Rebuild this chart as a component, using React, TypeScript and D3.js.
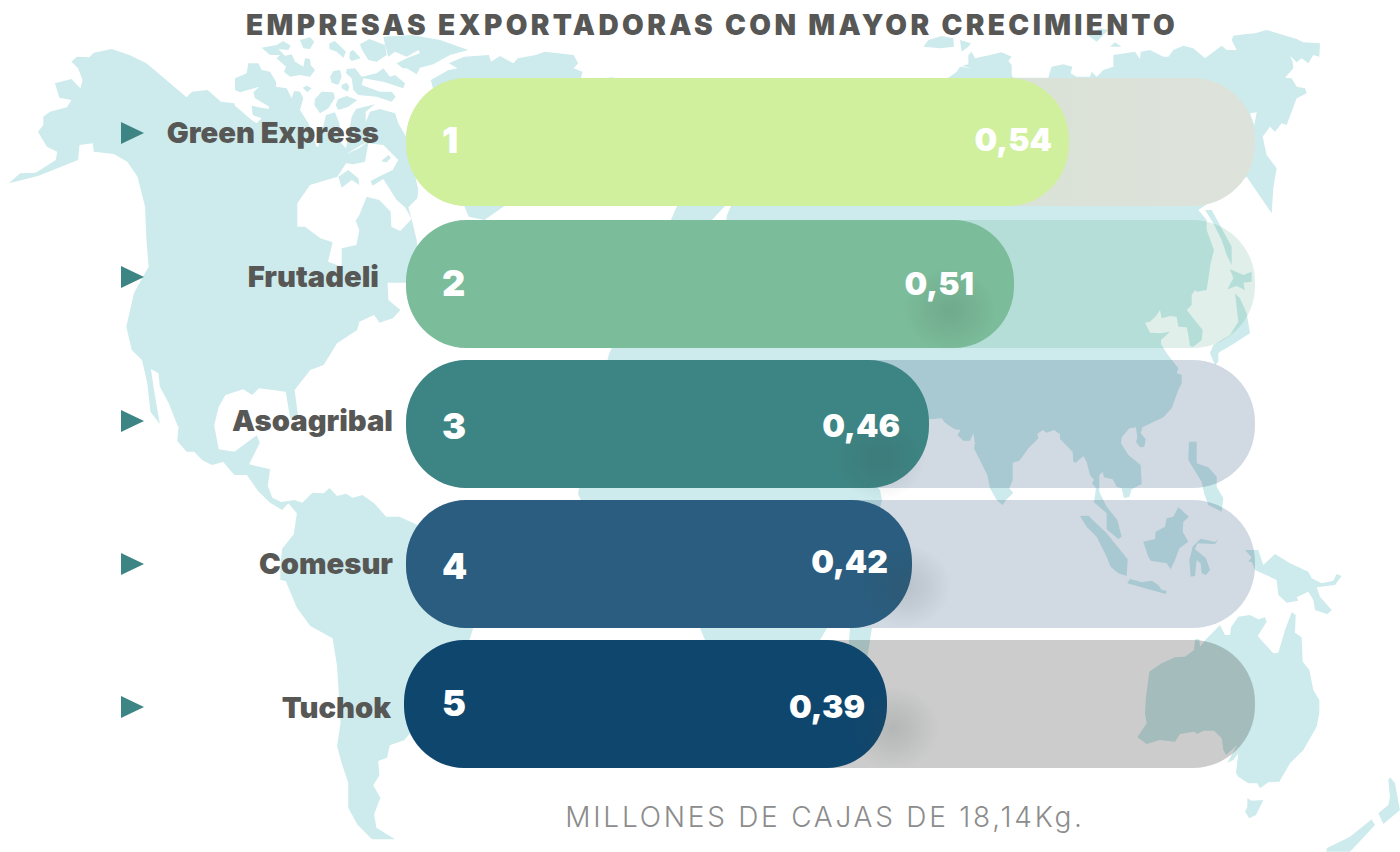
import React from "react";
import * as d3 from "d3";

const companies = ["Green Express", "Frutadeli", "Asoagribal", "Comesur", "Tuchok"];
const ranks = ["1", "2", "3", "4", "5"];
const values = [0.54, 0.51, 0.46, 0.42, 0.39];
const valueLabels = ["0,54", "0,51", "0,46", "0,42", "0,39"];
const title = "EMPRESAS EXPORTADORAS CON MAYOR CRECIMIENTO";
const footnote = "MILLONES DE CAJAS DE 18,14Kg.";

// layout and style, separate from the data
const rowTops = [78, 220, 360, 500, 640];
const barEnds = [887, 912, 929, 1014, 1069];
const sortedValues = [0.39, 0.42, 0.46, 0.51, 0.54];
const barStarts = [406, 406, 406, 406, 404];
const labelRight = [379, 379, 393, 393, 391];
const labelBase = [143, 287, 431, 574, 718];
const rankBase = [153, 296, 439, 579, 716];
const valueRight = [1052, 974, 900, 888, 865];
const valueBase = [151, 295, 437, 573, 718];
const markerY = [133, 277, 421, 564, 707];
const fillColors = ["#d0f09e", "#7bbc9a", "#3d8584", "#2a5d7f", "#0f466e"];
const trackColors = ["url(#t1)", "#3e9c76", "#002c5e", "#002c5e", "#000000"];
const trackAlpha = [1, 0.16, 0.18, 0.18, 0.2];
const shadowAt = [null, [950, 310], [880, 458], [905, 586], [893, 728]];

type Frame = [number, number, number, number];
const z1: Frame = [0, 0, 1 / 2.24, 1 / 3];
const z3: Frame = [0, 426, 1 / 2.24, 1 / 3];
const z5: Frame = [220, 35, 1 / 3, 1 / 3];
const z6: Frame = [900, 25, 1 / 3, 1 / 3];
const z7: Frame = [1050, 210, 1 / 3, 1 / 3];
const z8: Frame = [900, 340, 1 / 3, 1 / 3];
const z9: Frame = [1120, 550, 1 / 3, 1 / 3];
const abs: Frame = [0, 0, 1, 1];

const line = d3.line<[number, number]>().curve(d3.curveLinear);
function shape(...segs: [Frame, string][]): string {
  const pts: [number, number][] = [];
  for (const [f, s] of segs) {
    for (const p of s.trim().split(/\s+/)) {
      const [x, y] = p.split(",").map(Number);
      pts.push([f[0] + x * f[2], f[1] + y * f[3]]);
    }
  }
  return line(pts) + "Z";
}

const landShapes: string[] = [
  // the Americas
  shape(
    [z1, "20,550 45,520 80,518 125,480 128,455 105,440 85,395 97,375 97,350 112,335 150,322 160,300 133,293 123,250 160,237 180,265 185,240 175,205 160,185 172,170 200,172 210,158 250,147 290,165 328,190 418,292 430,275 465,270 495,305 525,310"],
    [z5, "45,212 95,255 110,265 125,250 98,240 95,212 145,222 148,215 105,190 100,172 118,155 60,172 45,165 45,130 80,115 85,85 115,85 125,105 150,110 168,140 168,155 200,160 215,190 222,168 240,170 250,190 240,225 265,265 290,335 295,335 318,240 345,232 358,265 360,320 378,340 395,245 408,222 465,208 437,230 437,262 450,230 480,222 525,235 535,265 558,305 585,340 585,420 595,465 592,490 565,517 575,552 590,615 600,740 558,743"],
    [z1, "868,848 870,900 897,930 880,955 850,968 838,945 805,965 800,990 755,1030 725,1095 695,1110 660,1170 668,1250 650,1255 640,1175 610,1170 580,1165 565,1185 545,1168 505,1185 490,1220 480,1275"],
    [z3, "480,0 490,70 525,77 575,28 582,50 558,115 605,130 600,180 610,215 630,228 660,222 677,230 700,200 725,202 738,186 755,210 775,203 790,215 812,207 838,232 865,272 895,272 940,300 1060,500 1060,607 1052,640 1000,800 905,943 873,958 867,995 847,1005 850,1048 836,1078 852,1115 838,1165 843,1205 885,1240 833,1240 800,1195 780,1145 780,1070 765,1010 755,960 763,890 755,720 745,637 695,600 665,545 640,465 628,462 628,420 632,368 658,325 665,262 646,232 632,252 605,230 578,195 553,147 525,147 500,108 475,117 453,103 435,77 418,77 397,45 400,0"],
    [z1, "398,1278 378,1210 358,1160 355,1120 338,1107 345,1170 358,1272 337,1235 330,1150 318,1080 295,1050 283,980 300,880 320,830 333,800 328,720 325,620 308,530 285,485 255,462 210,455 208,430 178,435 175,480 85,528"]
  ),
  // arctic islands
  shape([z5, "125,38 170,30 190,18 212,32 205,45 175,42 195,62 215,58 225,80 250,95 255,70 270,72 272,90 285,105 270,125 240,120 210,125 192,110 198,95 170,70 180,60 150,60"]),
  shape([z5, "240,15 270,7 283,20 270,42 250,40"]),
  shape([z5, "328,25 345,18 378,50 370,68 350,50 328,42"]),
  shape([z5, "390,50 400,45 422,70 395,78 388,70"]),
  shape([z5, "420,28 448,12 495,30 500,60 470,80 445,75 425,42"]),
  shape([z5, "490,5 575,0 660,15 745,45 690,60 640,88 600,98 590,118 560,100 548,100 530,85 560,70 600,55 595,45 560,65 525,50 505,65 495,30"]),
  shape([z5, "380,102 405,100 425,125 470,115 490,100 510,125 525,120 555,145 550,160 490,140 430,130 425,150 480,170 515,170 527,185 515,200 470,185 415,180 400,165 395,130 378,115"]),
  shape([z5, "340,108 360,105 365,125 355,150 335,143 330,125"]),
  shape([z5, "365,150 380,143 388,155 383,170 365,160"]),
  shape([z5, "285,192 305,170 340,172 345,188 325,220 300,235 283,210"]),
  shape([z5, "355,192 380,183 412,195 385,215 355,225 347,210"]),
  shape([z5, "248,158 260,152 275,160 262,172"]),
  // Greenland
  shape([z1, "965,240 1005,210 1025,205 1005,190 1040,170 1095,165 1100,185 1120,168 1150,190 1160,175 1200,165 1220,155 1285,165 1295,190 1285,205 1305,215 1300,240 1375,232 1400,300 1130,618 1085,660 1050,650 1040,618"]),
  // Eurasia and Africa
  shape(
    [abs, "677,206 700,100 900,100"],
    [z6, "150,155 170,140 180,125 215,130 185,122 205,118 205,90 215,80 225,100 270,90 305,82 335,95 325,108 335,120 335,150 340,158 445,158 450,140 455,125 490,118 517,125 512,145 530,155 570,155 575,140 590,155 610,135 640,125 640,90 705,80 720,102 722,80 750,75 790,95 805,95 820,75 850,62 880,70 915,100 965,62 980,75 1010,75 995,45 1000,32 1040,27 1065,25 1100,15 1190,42 1210,52 1260,55 1258,95 1240,90 1225,115 1205,100 1190,112 1170,92 1178,110 1180,130 1155,158 1175,160 1190,185 1215,190 1220,205 1190,220 1160,300 1145,295 1125,320 1110,305 1088,335 1100,390 1130,430 1120,490 1115,565 1040,455"],
    [z7, "445,0 470,30 470,60 492,120 482,160 470,240 440,245 435,240 425,255 425,285 410,300 458,360 455,390 430,410 420,408 415,375 410,352 385,350 380,320 360,318 335,325 330,300 318,318 300,335 285,338 300,368 330,370 360,365 333,390 333,410"],
    [z8, "782,10 800,40 835,85 830,100 845,105 845,130 835,150 815,205 790,232 727,262 722,280 737,298 733,320 720,322 708,305 712,295 708,262 688,265 665,292 663,310 685,345 722,375 725,432 695,448 688,470 672,475 665,445 650,440 638,418 612,412 608,395 598,405 598,455 620,500 652,540 665,590 655,597 620,568 620,520 582,487 588,445 576,430 582,420 570,405 560,365 550,348 527,368 520,365 518,335 480,297 480,282 462,270 440,278 428,270 412,282 415,295 385,325 358,362 338,368 338,420 328,445 340,458 318,480 308,495 290,480 270,445 262,405 222,325 225,310 220,280 210,302 190,302 172,285 182,270 165,268 155,262 135,248 125,235 88,238"],
    [abs, "905,425 895,465 876,486 880,490 882,500 860,580 827,628 820,640 800,720 740,720 705,640 700,628 600,540 578,494 585,450 609,354 660,240 670,222"]
  ),
  // islands around Eurasia
  shape([z6, "70,65 85,45 125,33 160,40 162,65 120,70"]),
  shape([z6, "180,45 213,55 205,65 185,80"]),
  shape([z6, "560,30 600,10 625,15 610,30 590,50 570,35"]),
  shape([z6, "630,65 645,52 665,65"]),
  shape([z7, "465,0 485,0 545,110 545,165 530,135 515,90 490,40"]),
  shape([z7, "540,178 580,195 605,185 605,215 580,218 585,240 560,228 532,238 550,205"]),
  shape([z7, "555,250 570,265 590,310 600,370 545,405 510,425 505,430 505,455 495,465 480,430 490,405 540,375 565,335"]),
  shape([abs, "850,628 872,628 866,665 858,680 848,655"]),
  // South-East Asia
  shape([z8, "540,528 565,527 620,580 683,658 680,708 655,700 632,680 620,650 590,590 560,560"]),
  shape([z8, "682,730 690,717 725,727 755,722 775,735 785,750 800,752 797,762"]),
  shape([z8, "730,605 765,597 767,575 795,560 800,535 820,530 835,502 867,530 850,545 848,575 865,605 838,625 825,660 812,688 800,670 752,662 745,650"]),
  shape([z8, "868,660 878,620 902,596 945,606 956,597 945,612 892,610 885,628 918,655 930,690 918,705 905,700 902,670 890,660 885,708 872,710"]),
  shape([z8, "867,305 890,305 890,370 925,382 950,410 950,440 970,475 965,515 925,495 912,460 905,425 865,360"]),
  // New Guinea, Australia, Tasmania, New Zealand
  shape([z9, "375,0 415,0 430,45 465,12 510,40 565,65 575,85 605,100 640,92 650,72 665,78 645,105 590,112 600,140 635,180 622,193 585,180 580,150 565,125 530,142 535,152 500,158 475,135 470,90 405,60 395,35 385,35 395,22"]),
  shape([z9, "225,268 222,300 195,320 165,322 125,340 88,365 78,440 75,490 80,520 52,562 80,582 120,570 165,575 180,552 222,545 232,552 250,542 282,542 305,565 310,600 318,615 352,585 322,638 340,630 355,610 348,668 355,680 385,700 412,700 420,715 445,697 478,695 510,640 550,600 590,530 598,490 598,450 580,420 568,360 548,335 545,262 525,248 527,195 515,187 495,240 475,308 460,310 413,258 440,215 435,202 415,208 390,195 355,200 333,232 330,255 315,255 300,225 258,268 240,290 238,268"]),
  shape([z9, "382,745 395,752 430,750 408,795 388,805 375,785 382,770"]),
  shape([z9, "810,682 825,700 833,745 840,780 790,822 775,790 805,765 810,740 805,690"]),
  shape([z9, "755,808 765,825 690,905 620,905 620,895 690,860"]),
];

// water cut out of the land
const waterShapes: string[] = [
  shape([z5, "232,575 232,505 270,450 352,425 378,385 400,388 435,380 445,325 490,330 535,375 518,405 470,428 452,438 458,452 490,432 530,495 555,517 575,552 541,588 514,575 512,530 478,495 440,485 418,540 407,557 418,585 409,630 365,640 365,695 324,680 338,622 301,610 255,575"]),
  shape([z5, "378,358 415,335 445,318 420,338"]),
  shape([z6, "1050,265 1070,262 1063,300"]),
  shape([abs, "710,222 725,206 731,206 727,215 726,222"]),
];
const lakeIslands: string[] = [
  shape([z5, "355,425 385,405 415,430 418,450 395,435 365,458"]),
  shape([z5, "487,375 505,360 513,368 500,382 487,380"]),
];

const x = d3.scaleLinear().domain(sortedValues).range(barEnds);
const y = d3.scaleOrdinal<string, number>().domain(ranks).range(rowTops);
const barHeight = 128;
const trackRight = 1255;
const corner = 62;
const font = "Inter, 'Noto Sans', sans-serif";

export default function App() {
  return (
    <svg width={1400} height={852} viewBox="0 0 1400 852"
      style={{ position: "absolute", left: 0, top: 0, background: "#fff", display: "block" }}>
      <defs>
        <linearGradient id="t1" x1="0" x2="1" y1="0" y2="0">
          <stop offset="0" stopColor="#d3ddd1" />
          <stop offset="1" stopColor="#dde3da" />
        </linearGradient>
        <radialGradient id="shade">
          <stop offset="0" stopColor="#3a4a4a" stopOpacity={0.16} />
          <stop offset="0.5" stopColor="#3a4a4a" stopOpacity={0.09} />
          <stop offset="1" stopColor="#3a4a4a" stopOpacity={0} />
        </radialGradient>
      </defs>

      <g fill="#cdebec">{landShapes.map((d, i) => <path key={i} d={d} />)}</g>
      <g fill="#ffffff">{waterShapes.map((d, i) => <path key={i} d={d} />)}</g>
      <g fill="#cdebec">{lakeIslands.map((d, i) => <path key={i} d={d} />)}</g>

      {companies.map((name, i) => {
        const top = y(ranks[i]) as number;
        const end = x(values[i]);
        const start = barStarts[i];
        const s = shadowAt[i];
        return (
          <g key={name}>
            <rect x={406} y={top} width={trackRight - 406} height={barHeight} rx={corner} ry={62}
              fill={trackColors[i]} fillOpacity={trackAlpha[i]} />
            <rect x={start} y={top} width={end - start} height={barHeight} rx={60} ry={62} fill={fillColors[i]} />
            {s && <ellipse cx={s[0]} cy={s[1]} rx={46} ry={42} fill="url(#shade)" />}
            <text x={442} y={rankBase[i]} fill="#fff" fontFamily={font} fontWeight={900} fontSize={36}>{ranks[i]}</text>
            <text x={valueRight[i]} y={valueBase[i]} textAnchor="end" fill="#fff" fontFamily={font} fontWeight={900} fontSize={32}>{valueLabels[i]}</text>
            <text x={labelRight[i]} y={labelBase[i]} textAnchor="end" fill="#575756" fontFamily={font} fontWeight={900} fontSize={29.2}>{name}</text>
            <path d={d3.line()([[121, markerY[i] - 11], [144, markerY[i]], [121, markerY[i] + 11]]) + "Z"} fill="#3d8584" />
          </g>
        );
      })}

      <text x={712} y={35} textAnchor="middle" fill="#575756" fontFamily={font} fontWeight={900} fontSize={28} letterSpacing={3.37}>{title}</text>
      <text x={825} y={827} textAnchor="middle" fill="#8c8c8c" fontFamily={font} fontWeight={300} fontSize={28} letterSpacing={2.76}>{footnote}</text>
    </svg>
  );
}
